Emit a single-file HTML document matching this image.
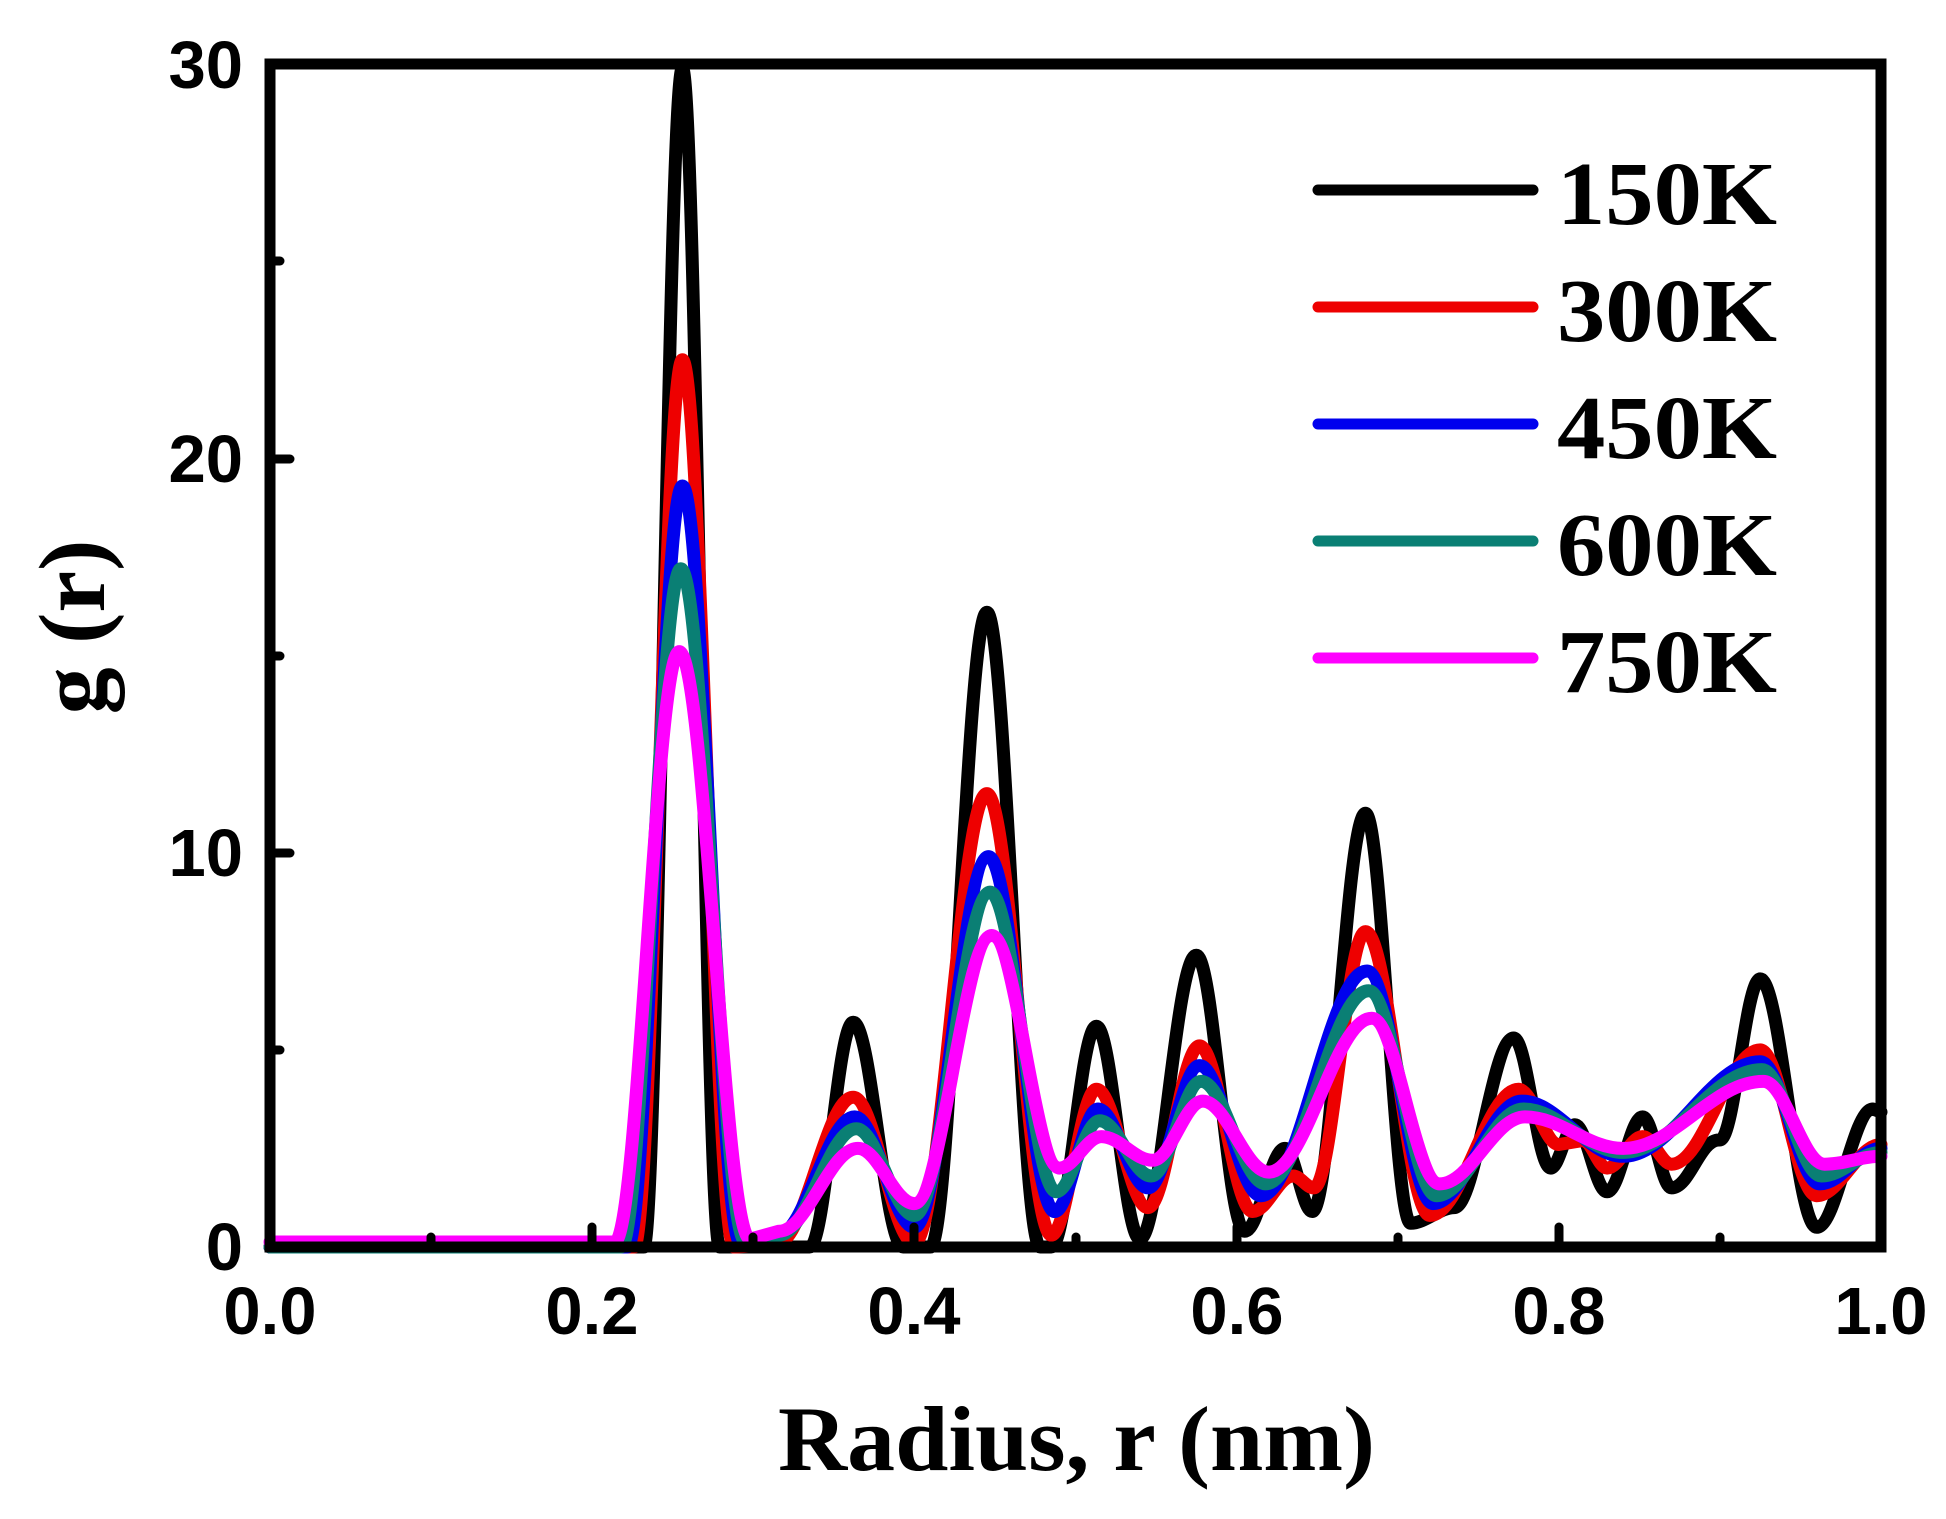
<!DOCTYPE html>
<html><head><meta charset="utf-8"><style>
html,body{margin:0;padding:0;background:#fff;}
svg{display:block;}
</style></head><body>
<svg width="1946" height="1519" viewBox="0 0 1946 1519" xmlns="http://www.w3.org/2000/svg">
<rect width="1946" height="1519" fill="#fff"/>
<g fill="none" stroke-width="13" stroke-linejoin="round" stroke-linecap="round">
<path stroke="#000" d="M270,1247 L643.8,1247 C657.9,1247 668.3,68 682.4,68 C695.9,68 706,1247 719.5,1247 L809.7,1247 C825.5,1247 837.4,1022.2 853.2,1022.2 C871.4,1022.2 884.9,1247 903.1,1247 L930.5,1247 C951,1247 966.4,612.2 986.9,612.2 C1006.3,612.2 1020.7,1247 1040.1,1247 L1051.3,1247 C1067.7,1247 1080,1026.2 1096.4,1026.2 C1112.2,1026.2 1124.1,1239.1 1139.9,1239.1 C1160.4,1239.1 1175.8,955.2 1196.3,955.2 C1213.9,955.2 1227.1,1231.2 1244.7,1231.2 C1259.3,1231.2 1270.3,1148.4 1284.9,1148.4 C1294.9,1148.4 1302.3,1211.5 1312.3,1211.5 C1331.7,1211.5 1346.1,813.3 1365.5,813.3 C1381.9,813.3 1394.2,1223.3 1410.6,1223.3 C1425,1223.3 1440,1207.6 1454.1,1207.6 C1475.8,1207.6 1492,1038 1513.7,1038 C1527.2,1038 1537.2,1168.1 1550.7,1168.1 C1559.5,1168.1 1566.1,1124.8 1574.9,1124.8 C1586.6,1124.8 1595.4,1191.8 1607.1,1191.8 C1620,1191.8 1629.7,1116.9 1642.6,1116.9 C1653.2,1116.9 1661,1187.9 1671.6,1187.9 C1690,1187.9 1700,1138 1719.9,1140 C1734.6,1140 1745.5,978.9 1760.2,978.9 C1780.7,978.9 1796.1,1227.3 1816.6,1227.3 C1837.1,1227.3 1852.4,1109 1872.9,1109 L1881,1112"/>
<path stroke="#ee0000" d="M270,1247 L634.1,1247 C651.7,1247 664.8,359.8 682.4,359.8 C701.2,359.8 715.2,1247 734,1247 C749.8,1247 761.7,1243.1 777.5,1243.1 C805.1,1243.1 825.6,1097.2 853.2,1097.2 C875.5,1097.2 892.1,1243.1 914.4,1243.1 C940.8,1243.1 960.5,793.6 986.9,793.6 C1010.3,793.6 1027.9,1235.2 1051.3,1235.2 C1067.7,1235.2 1080,1089.3 1096.4,1089.3 C1115.2,1089.3 1129.2,1207.6 1148,1207.6 C1166.7,1207.6 1180.8,1045.9 1199.5,1045.9 C1218.9,1045.9 1233.3,1211.5 1252.7,1211.5 C1267.4,1211.5 1278.3,1176 1293,1176 C1300.6,1176 1306.3,1187.9 1313.9,1187.9 C1332.7,1187.9 1346.7,931.6 1365.5,931.6 C1388.9,931.6 1406.5,1215.5 1429.9,1215.5 C1462.2,1215.5 1486.2,1089.3 1518.5,1089.3 C1533.2,1089.3 1544.1,1144.5 1558.8,1144.5 L1583,1140.5 C1591.8,1140.5 1598.3,1168.1 1607.1,1168.1 C1620,1168.1 1629.7,1136.6 1642.6,1136.6 C1653.2,1136.6 1661,1164.2 1671.6,1164.2 C1703.9,1164.2 1727.9,1049.9 1760.2,1049.9 C1780.7,1049.9 1796.1,1195.7 1816.6,1195.7 C1840,1195.7 1857.6,1144.5 1881,1144.5"/>
<path stroke="#0000ee" d="M270,1247 L627.6,1247 C647.5,1247 662.5,486 682.4,486 C703.5,486 719.3,1243.1 740.4,1243.1 L777.5,1235.2 C805.6,1235.2 826.7,1116.9 854.8,1116.9 C876.5,1116.9 892.7,1227.3 914.4,1227.3 C941.4,1227.3 961.5,856.6 988.5,856.6 C1012.6,856.6 1030.5,1211.5 1054.6,1211.5 C1070.4,1211.5 1082.3,1109 1098.1,1109 C1116.3,1109 1129.8,1187.9 1148,1187.9 C1166.7,1187.9 1180.8,1065.6 1199.5,1065.6 C1221.8,1065.6 1238.5,1195.7 1260.8,1195.7 C1299.5,1195.7 1328.4,971 1367.1,971 C1391.1,971 1409.1,1203.6 1433.1,1203.6 C1465.4,1203.6 1489.4,1101.1 1521.7,1101.1 C1558.6,1101.1 1586.3,1156.3 1623.2,1156.3 C1673.1,1156.3 1710.3,1061.7 1760.2,1061.7 C1781.9,1061.7 1798.1,1183.9 1819.8,1183.9 C1842.1,1183.9 1858.7,1148.4 1881,1148.4"/>
<path stroke="#0a7f74" d="M270,1247 L621.2,1247 C642.9,1247 659.1,568.8 680.8,568.8 C704.2,568.8 721.8,1241.1 745.2,1241.1 L779.1,1235.2 C807.2,1235.2 828.3,1128.7 856.4,1128.7 C877.5,1128.7 893.3,1215.5 914.4,1215.5 C942,1215.5 962.5,892.1 990.1,892.1 C1014.2,892.1 1032.1,1191.8 1056.2,1191.8 C1072,1191.8 1083.9,1120.8 1099.7,1120.8 C1118.4,1120.8 1132.5,1176 1151.2,1176 C1169.4,1176 1183,1081.4 1201.2,1081.4 C1224.6,1081.4 1242.2,1183.9 1265.6,1183.9 C1303.1,1183.9 1331.2,990.7 1368.7,990.7 C1393.3,990.7 1411.8,1195.7 1436.4,1195.7 C1468.1,1195.7 1491.7,1109 1523.4,1109 C1559.7,1109 1586.9,1152.4 1623.2,1152.4 C1673.7,1152.4 1711.3,1069.6 1761.8,1069.6 C1783.5,1069.6 1799.7,1176 1821.4,1176 C1843.1,1176 1859.3,1152.4 1881,1152.4"/>
<path stroke="#ff00ff" d="M270,1242 L614.8,1242 C638.2,1242 655.8,651.6 679.2,651.6 C705,651.6 724.3,1239.1 750.1,1239.1 L779.1,1231.2 C807.8,1231.2 829.3,1148.4 858,1148.4 C878.5,1148.4 893.9,1203.6 914.4,1203.6 C942.5,1203.6 963.6,935.5 991.7,935.5 C1016.3,935.5 1034.8,1168.1 1059.4,1168.1 C1074.7,1168.1 1086,1136.6 1101.3,1136.6 C1120,1136.6 1134.1,1160.3 1152.8,1160.3 C1171,1160.3 1184.6,1101.1 1202.8,1101.1 C1226.8,1101.1 1244.8,1172.1 1268.8,1172.1 C1306.3,1172.1 1334.4,1018.3 1371.9,1018.3 C1396.5,1018.3 1415,1183.9 1439.6,1183.9 C1470.7,1183.9 1493.9,1116.9 1525,1116.9 C1560.7,1116.9 1587.5,1148.4 1623.2,1148.4 C1674.2,1148.4 1712.4,1081.4 1763.4,1081.4 C1785.7,1081.4 1802.3,1164.2 1824.6,1164.2 C1845.1,1164.2 1860.5,1156.3 1881,1156.3"/>
</g>
<rect x="270" y="64" width="1611" height="1183" fill="none" stroke="#000" stroke-width="11"/>
<g stroke="#000" stroke-width="9" stroke-linecap="round">
<line x1="592" y1="1247" x2="592" y2="1227"/>
<line x1="914" y1="1247" x2="914" y2="1227"/>
<line x1="1237" y1="1247" x2="1237" y2="1227"/>
<line x1="1559" y1="1247" x2="1559" y2="1227"/>
<line x1="431" y1="1247" x2="431" y2="1237"/>
<line x1="753" y1="1247" x2="753" y2="1237"/>
<line x1="1076" y1="1247" x2="1076" y2="1237"/>
<line x1="1398" y1="1247" x2="1398" y2="1237"/>
<line x1="1720" y1="1247" x2="1720" y2="1237"/>
<line x1="270" y1="853" x2="290" y2="853"/>
<line x1="270" y1="459" x2="290" y2="459"/>
<line x1="270" y1="1050" x2="280" y2="1050"/>
<line x1="270" y1="656" x2="280" y2="656"/>
<line x1="270" y1="261" x2="280" y2="261"/>
</g>
<g font-family="Liberation Sans, Arial, sans-serif" font-weight="bold" font-size="67" fill="#000">
<text x="243" y="88" text-anchor="end">30</text>
<text x="243" y="482" text-anchor="end">20</text>
<text x="243" y="876" text-anchor="end">10</text>
<text x="243" y="1270" text-anchor="end">0</text>
<text x="270" y="1334" text-anchor="middle">0.0</text>
<text x="592" y="1334" text-anchor="middle">0.2</text>
<text x="914" y="1334" text-anchor="middle">0.4</text>
<text x="1237" y="1334" text-anchor="middle">0.6</text>
<text x="1559" y="1334" text-anchor="middle">0.8</text>
<text x="1881" y="1334" text-anchor="middle">1.0</text>
</g>
<g font-family="Liberation Serif, Times New Roman, serif" font-weight="bold" fill="#000">
<text x="778" y="1470" font-size="92" textLength="597" lengthAdjust="spacingAndGlyphs">Radius, r (nm)</text>
<text transform="translate(104,627) rotate(-90)" x="0" y="0" font-size="94" text-anchor="middle">g (r)</text>
<g font-size="90">
<text x="1557" y="224" textLength="220" lengthAdjust="spacingAndGlyphs">150K</text>
<text x="1557" y="341" textLength="220" lengthAdjust="spacingAndGlyphs">300K</text>
<text x="1557" y="458" textLength="220" lengthAdjust="spacingAndGlyphs">450K</text>
<text x="1557" y="575" textLength="220" lengthAdjust="spacingAndGlyphs">600K</text>
<text x="1557" y="692" textLength="220" lengthAdjust="spacingAndGlyphs">750K</text>
</g>
</g>
<g stroke-width="11" stroke-linecap="round">
<line x1="1318" y1="190" x2="1533" y2="190" stroke="#000"/>
<line x1="1318" y1="307" x2="1533" y2="307" stroke="#ee0000"/>
<line x1="1318" y1="424" x2="1533" y2="424" stroke="#0000ee"/>
<line x1="1318" y1="541" x2="1533" y2="541" stroke="#0a7f74"/>
<line x1="1318" y1="658" x2="1533" y2="658" stroke="#ff00ff"/>
</g>
</svg>
</body></html>
